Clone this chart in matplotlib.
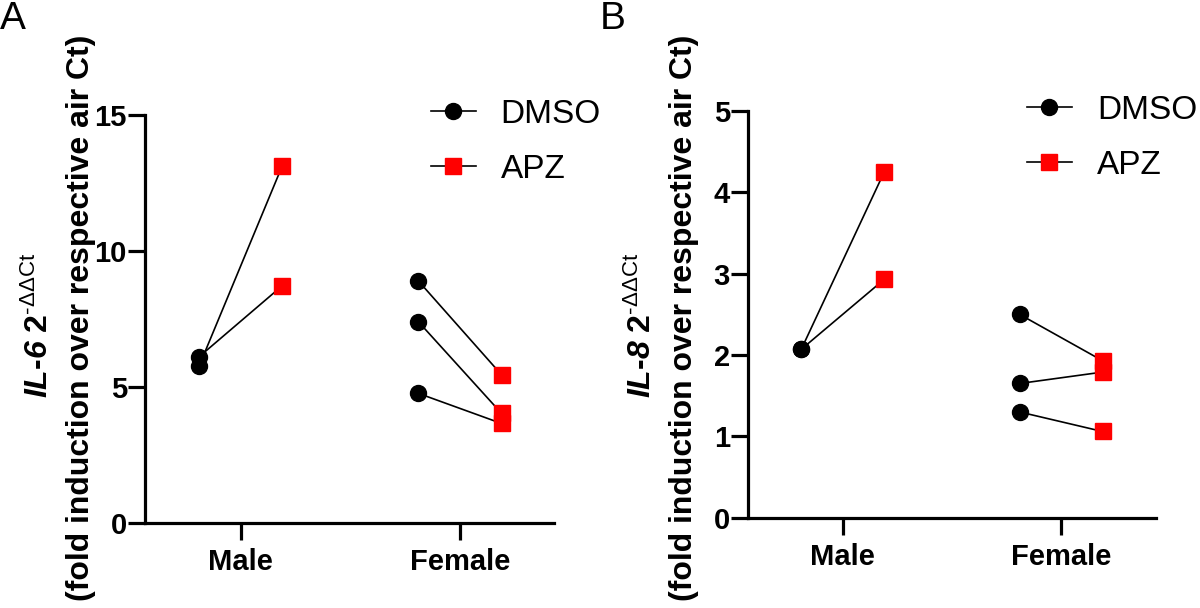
import matplotlib
matplotlib.use("Agg")
import matplotlib.pyplot as plt

plt.rcParams['font.family'] = ['Liberation Sans', 'DejaVu Sans']
plt.rcParams['mathtext.fontset'] = 'custom'
plt.rcParams['mathtext.rm'] = 'Liberation Sans'
plt.rcParams['mathtext.it'] = 'Liberation Sans:italic'
plt.rcParams['mathtext.bf'] = 'Liberation Sans:bold'
plt.rcParams['mathtext.bfit'] = 'Liberation Sans:italic:bold'

groups = ['Male', 'Female']
treatments = ['DMSO', 'APZ']

# paired values: DMSO -> APZ for each sample
il6_male_dmso = [6.1, 5.75]
il6_male_apz = [8.72, 13.13]
il6_female_dmso = [8.9, 7.4, 4.76]
il6_female_apz = [5.44, 4.02, 3.65]

il8_male_dmso = [2.07, 2.07]
il8_male_apz = [4.25, 2.93]
il8_female_dmso = [2.5, 1.65, 1.3]
il8_female_apz = [1.93, 1.79, 1.06]

off = 0.19
W, H = 1200, 608


def panel(ax, male_d, male_a, fem_d, fem_a, ymax, xlim, legx):
    for gi, (d, a) in enumerate([(male_d, male_a), (fem_d, fem_a)]):
        for vd, va in zip(d, a):
            ax.plot([gi - off, gi + off], [vd, va], color='black', lw=1.2, zorder=1)
        ax.plot([gi - off] * len(d), d, 'o', color='black', ms=11.5, zorder=3)
        ax.plot([gi + off] * len(a), a, 's', color='red', ms=11, zorder=3)
    # legend handles
    ax.plot([], [], '-o', color='black', mfc='black', mec='black', ms=11.5, lw=1.2, label=treatments[0])
    ax.plot([], [], '-s', color='black', mfc='red', mec='red', ms=11, lw=1.2, label=treatments[1])
    ax.legend(loc='upper left', bbox_to_anchor=(legx, 1.113), frameon=False, fontsize=24,
              handlelength=1.35, handletextpad=0.75, labelspacing=0.72)
    ax.set_ylim(0, ymax)
    ax.set_xlim(*xlim)
    ax.set_xticks([0, 1])
    ax.set_xticklabels(groups)
    ax.spines['top'].set_visible(False)
    ax.spines['right'].set_visible(False)
    for s in ['left', 'bottom']:
        ax.spines[s].set_linewidth(2.3)
    ax.tick_params(direction='out', length=12, width=2.3, labelsize=21)
    ax.tick_params(axis='y', pad=1)
    ax.tick_params(axis='x', pad=6)
    for lab in ax.get_xticklabels() + ax.get_yticklabels():
        lab.set_fontweight('bold')


def ylabel(fig, x0, gene):
    line1 = r'$\mathbfit{IL}$-$\mathbfit{' + gene + r'}$ 2$^{\text{-ΔΔCt}}$'
    line2 = '(fold induction over respective air Ct)'
    fig.text((x0 + 48) / W, 1 - 325 / H, line1, rotation=90, rotation_mode='anchor',
             ha='center', va='baseline', fontsize=23, fontweight='bold')
    fig.text((x0 + 89) / W, 1 - 318 / H, line2, rotation=90, rotation_mode='anchor',
             ha='center', va='baseline', fontsize=23, fontweight='bold')


fig = plt.figure(figsize=(12, 6.08), dpi=100)
ax1 = fig.add_axes([145 / W, 1 - 522.7 / H, 409 / W, 407.7 / H])
ax2 = fig.add_axes([748 / W, 1 - 517.7 / H, 408 / W, 406.7 / H])

panel(ax1, il6_male_dmso, il6_male_apz, il6_female_dmso, il6_female_apz, 15, (-0.436, 1.429), 0.625)
ax1.set_yticks([0, 5, 10, 15])
panel(ax2, il8_male_dmso, il8_male_apz, il8_female_dmso, il8_female_apz, 5, (-0.434, 1.435), 0.61)
ax2.set_yticks([0, 1, 2, 3, 4, 5])

ylabel(fig, 0, '6')
ylabel(fig, 603, '8')

fig.text(0.0, 0.998, 'A', fontsize=28, va='top', ha='left')
fig.text(0.5, 0.998, 'B', fontsize=28, va='top', ha='left')

fig.savefig('out.png', dpi=100)
